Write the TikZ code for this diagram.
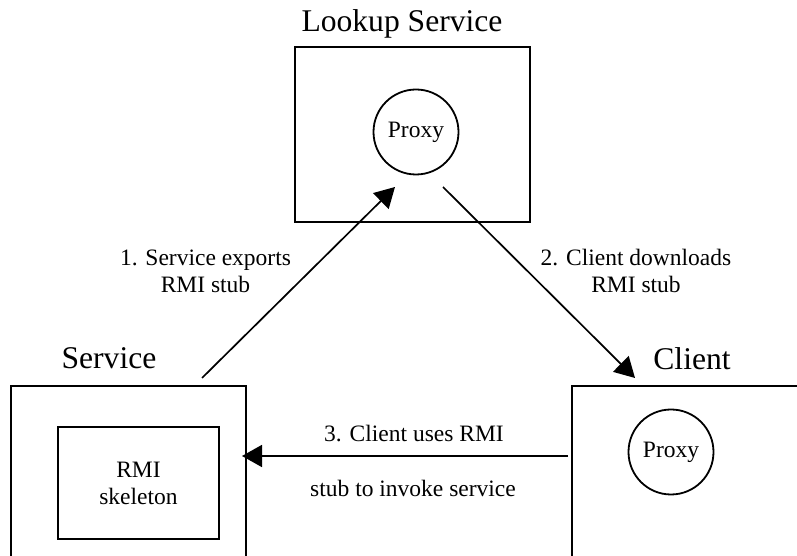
\documentclass[tikz,border=0pt]{standalone}
\usepackage{fontspec}
\setmainfont{Liberation Serif}
\usetikzlibrary{arrows.meta}
\begin{document}
\begin{tikzpicture}[x=1pt,y=1pt,
  frame/.style={line width=1.9pt},
  proxy/.style={draw,circle,line width=1.8pt,minimum size=85pt,inner sep=0pt,
    font=\fontsize{23.5}{27}\selectfont},
  title/.style={anchor=base,inner sep=0pt,font=\fontsize{31.6}{36}\selectfont},
  lbl/.style={align=center,inner sep=0pt,font=\fontsize{23.5}{27}\selectfont},
  link/.style={line width=1.7pt,-{Triangle[length=20pt,width=22pt]}}]
\useasboundingbox (0,0) rectangle (797,556);
\clip (0,0) rectangle (797,556);

% lookup service with the registered proxy
\draw[frame] (295,334) rectangle (530,509);
\node[proxy] (lproxy) at (416,424) {Proxy};
\node[title] (ltitle) at (402,524) {Lookup Service};

% service side with its skeleton
\draw[frame] (11,170) rectangle (246,-60);
\node[draw,frame,minimum width=161pt,minimum height=112pt,
  align=center,font=\fontsize{23.5}{27}\selectfont] (skel) at (138.5,73)
  {RMI\\skeleton};
\node[title] (stitle) at (109,187) {Service};

% client side with its downloaded proxy
\draw[frame] (572,170) rectangle (860,-60);
\node[proxy] (cproxy) at (671,104) {Proxy};
\node[title] (ctitle) at (692,186) {Client};

% connector end points
\coordinate (e1a) at (202,178);
\coordinate (e1b) at (395,369);
\coordinate (e2a) at (443,369);
\coordinate (e2b) at (635,178);
\coordinate (e3a) at (568,100);
\coordinate (e3b) at (242,100);

\draw[link] (e1a) -- (e1b);
\draw[link] (e2a) -- (e2b);
\draw[link] (e3a) -- (e3b);

% step labels
\node[lbl,anchor=base] (l1a) at (205.5,290) {1. Service exports};
\node[lbl,anchor=base] (l1b) at (205.5,263) {RMI stub};
\node[lbl,anchor=base] (l2a) at (636,290) {2. Client downloads};
\node[lbl,anchor=base] (l2b) at (636,263) {RMI stub};
\node[lbl,anchor=base] (l3a) at (414,114) {3. Client uses RMI};
\node[lbl,anchor=base] (l3b) at (413,59) {stub to invoke service};
\end{tikzpicture}
\end{document}
